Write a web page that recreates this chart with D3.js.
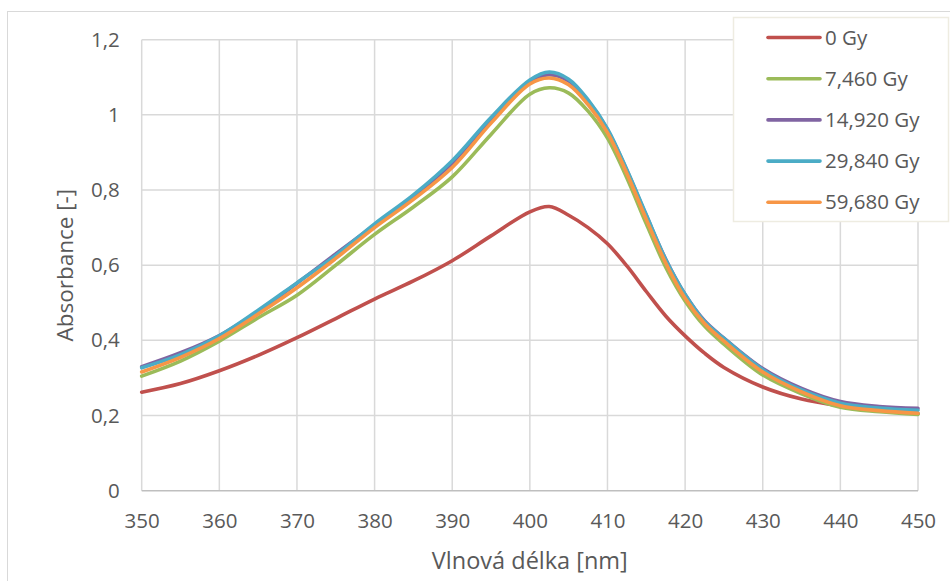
<!DOCTYPE html>
<html>
<head>
<meta charset="utf-8">
<script src="https://cdn.jsdelivr.net/npm/d3@7"></script>
<style>
  html, body { margin: 0; padding: 0; background: #fff; }
  svg { display: block; }
  text { font-family: "Open Sans", "Noto Sans", sans-serif; fill: #595959; }
</style>
</head>
<body>
<svg id="chart" width="950" height="581"></svg>
<script>
// Absorption spectra of irradiated samples
const wavelengths = [350, 355, 360, 365, 370, 375, 380, 385, 390, 395, 400, 402.5, 405, 407.5, 410, 412.5, 415, 417.5, 420, 422.5, 425, 430, 435, 440, 445, 450];

const dose0     = [0.262, 0.285, 0.319, 0.360, 0.407, 0.458, 0.510, 0.558, 0.612, 0.678, 0.742, 0.756, 0.733, 0.700, 0.657, 0.598, 0.530, 0.465, 0.412, 0.366, 0.328, 0.276, 0.244, 0.226, 0.214, 0.205];
const dose7460  = [0.305, 0.345, 0.398, 0.460, 0.520, 0.600, 0.682, 0.755, 0.835, 0.948, 1.055, 1.072, 1.058, 1.010, 0.938, 0.832, 0.710, 0.595, 0.505, 0.438, 0.390, 0.308, 0.258, 0.222, 0.210, 0.203];
const dose14920 = [0.330, 0.367, 0.413, 0.477, 0.552, 0.630, 0.707, 0.782, 0.872, 0.988, 1.088, 1.107, 1.090, 1.037, 0.960, 0.852, 0.732, 0.616, 0.522, 0.452, 0.406, 0.325, 0.272, 0.237, 0.224, 0.219];
const dose29840 = [0.327, 0.362, 0.412, 0.480, 0.553, 0.626, 0.710, 0.787, 0.878, 0.993, 1.093, 1.114, 1.095, 1.040, 0.963, 0.854, 0.734, 0.615, 0.522, 0.450, 0.405, 0.322, 0.268, 0.233, 0.220, 0.214];
const dose59680 = [0.316, 0.355, 0.405, 0.470, 0.540, 0.618, 0.700, 0.775, 0.860, 0.978, 1.082, 1.098, 1.080, 1.027, 0.953, 0.844, 0.722, 0.606, 0.512, 0.445, 0.398, 0.316, 0.263, 0.226, 0.213, 0.206];

const seriesNames = ["0 Gy", "7,460 Gy", "14,920 Gy", "29,840 Gy", "59,680 Gy"];
const seriesValues = [dose0, dose7460, dose14920, dose29840, dose59680];
const seriesColors = ["#c0504d", "#9bbb59", "#8064a2", "#4bacc6", "#f79646"];

const xTicks = [350, 360, 370, 380, 390, 400, 410, 420, 430, 440, 450];
const yTicks = [0, 0.2, 0.4, 0.6, 0.8, 1.0, 1.2];
const fmtY = d => String(d).replace(".", ",");

const svg = d3.select("#chart");
const plot = { left: 141.7, right: 918, top: 39.7, bottom: 490.7 };

const x = d3.scaleLinear().domain([350, 450]).range([plot.left, plot.right]);
const y = d3.scaleLinear().domain([0, 1.2]).range([plot.bottom, plot.top]);

// outer chart frame
svg.append("rect")
  .attr("x", 7.5).attr("y", 11.5).attr("width", 960).attr("height", 600)
  .attr("fill", "#fff").attr("stroke", "#d9d9d9").attr("stroke-width", 1);

// gridlines
const grid = svg.append("g");
grid.selectAll("line.h").data(yTicks.filter(d => d > 0)).join("line")
  .attr("x1", plot.left).attr("x2", plot.right)
  .attr("y1", d => y(d)).attr("y2", d => y(d))
  .attr("stroke", "#d9d9d9").attr("stroke-width", 1.5);
grid.selectAll("line.v").data(xTicks).join("line")
  .attr("x1", d => x(d)).attr("x2", d => x(d))
  .attr("y1", plot.top).attr("y2", plot.bottom)
  .attr("stroke", "#d9d9d9").attr("stroke-width", 1.5);

// bottom axis line
svg.append("line")
  .attr("x1", plot.left).attr("x2", plot.right)
  .attr("y1", plot.bottom).attr("y2", plot.bottom)
  .attr("stroke", "#bfbfbf").attr("stroke-width", 1.5);

// axes (labels only)
const xAxis = svg.append("g").attr("transform", `translate(0,${plot.bottom})`)
  .call(d3.axisBottom(x).tickValues(xTicks).tickSize(0).tickPadding(23).tickFormat(d3.format("d")));
const yAxis = svg.append("g").attr("transform", `translate(${plot.left},0)`)
  .call(d3.axisLeft(y).tickValues(yTicks).tickSize(0).tickPadding(22).tickFormat(fmtY));
[xAxis, yAxis].forEach(a => {
  a.select(".domain").remove();
  a.selectAll("text").attr("font-size", 20.5).attr("fill", "#595959")
    .style("font-family", '"Open Sans", "Noto Sans", sans-serif');
});

// axis titles
svg.append("text")
  .attr("x", (plot.left + plot.right) / 2).attr("y", 569)
  .attr("text-anchor", "middle").attr("font-size", 23.5)
  .text("Vlnová délka [nm]");
svg.append("text")
  .attr("transform", `translate(73,${(plot.top + plot.bottom) / 2}) rotate(-90)`)
  .attr("text-anchor", "middle").attr("font-size", 22.5)
  .text("Absorbance [-]");

// spectra
const line = d3.line()
  .x((d, i) => x(wavelengths[i]))
  .y(d => y(d))
  .curve(d3.curveCatmullRom.alpha(0.5));

svg.append("g").selectAll("path").data(seriesValues).join("path")
  .attr("d", d => line(d))
  .attr("fill", "none")
  .attr("stroke", (d, i) => seriesColors[i])
  .attr("stroke-width", 3.6)
  .attr("stroke-linejoin", "round")
  .attr("stroke-linecap", "round");

// legend
const legend = svg.append("g");
legend.append("rect")
  .attr("x", 733.5).attr("y", 17.5).attr("width", 215).attr("height", 204)
  .attr("fill", "#fff").attr("stroke", "#eeece1").attr("stroke-width", 1.5);
const items = legend.selectAll("g.item").data(seriesNames).join("g")
  .attr("transform", (d, i) => `translate(0,${37.5 + i * 41.2})`);
items.append("line")
  .attr("x1", 768).attr("x2", 820).attr("y1", 0).attr("y2", 0)
  .attr("stroke", (d, i) => seriesColors[i]).attr("stroke-width", 3.6)
  .attr("stroke-linecap", "round");
items.append("text")
  .attr("x", 825).attr("y", 0).attr("dy", "0.35em")
  .attr("font-size", 20.5)
  .text(d => d);
</script>
</body>
</html>
